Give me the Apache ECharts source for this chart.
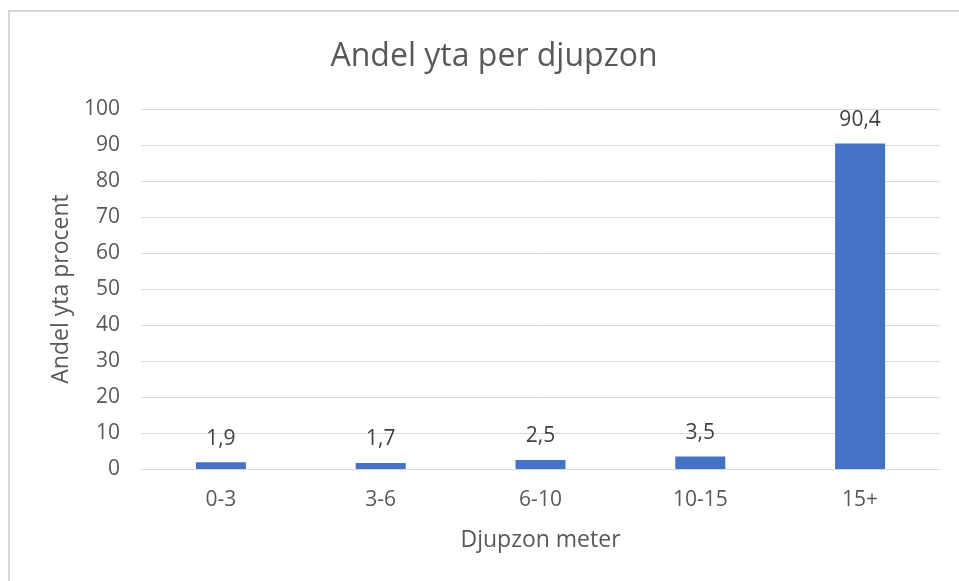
<!DOCTYPE html>
<html>
<head>
<meta charset="utf-8">
<script src="https://cdn.jsdelivr.net/npm/echarts@6/dist/echarts.min.js"></script>
<style>
html,body{margin:0;padding:0;background:#fff;}
#frame{position:absolute;left:8px;top:10px;width:960px;height:580px;border-left:2px solid #d9d9d9;border-top:2px solid #d9d9d9;}
#chart{position:absolute;left:0;top:0;width:959px;height:581px;}
</style>
</head>
<body>
<div id="frame"></div>
<div id="chart"></div>
<script>
const categories = ['0-3', '3-6', '6-10', '10-15', '15+'];
const values = [1.9, 1.7, 2.5, 3.5, 90.4];
const titleText = 'Andel yta per djupzon';
const xAxisName = 'Djupzon meter';
const yAxisName = 'Andel yta procent';

const font = '"Open Sans", "Noto Sans", sans-serif';
const chart = echarts.init(document.getElementById('chart'));
chart.setOption({
  backgroundColor: 'transparent',
  title: {
    text: titleText,
    left: 489,
    textAlign: 'center',
    top: 36,
    textStyle: { fontFamily: font, fontSize: 32, fontWeight: 'normal', color: '#595959' }
  },
  grid: { left: 141, right: 19, top: 109, bottom: 112 },
  xAxis: {
    type: 'category',
    data: categories,
    name: xAxisName,
    nameLocation: 'middle',
    nameGap: 60,
    nameTextStyle: { fontFamily: font, fontSize: 23, color: '#595959' },
    axisLine: { lineStyle: { color: '#d9d9d9', width: 1 } },
    axisTick: { show: false },
    axisLabel: { fontFamily: font, fontSize: 21, color: '#595959', margin: 21 }
  },
  yAxis: {
    type: 'value',
    min: 0, max: 100, interval: 10,
    name: yAxisName,
    nameLocation: 'middle',
    nameGap: 68,
    nameTextStyle: { fontFamily: font, fontSize: 23, color: '#595959' },
    axisLine: { show: false },
    axisTick: { show: false },
    splitLine: { lineStyle: { color: '#d9d9d9', width: 1 } },
    axisLabel: { fontFamily: font, fontSize: 21, color: '#595959', margin: 21 }
  },
  series: [{
    type: 'bar',
    data: values,
    barWidth: 50,
    itemStyle: { color: '#4472c4' },
    label: {
      show: true,
      position: 'top',
      distance: 13,
      fontFamily: font, fontSize: 21, color: '#404040',
      formatter: p => String(p.value).replace('.', ',')
    }
  }]
});
</script>
</body>
</html>
